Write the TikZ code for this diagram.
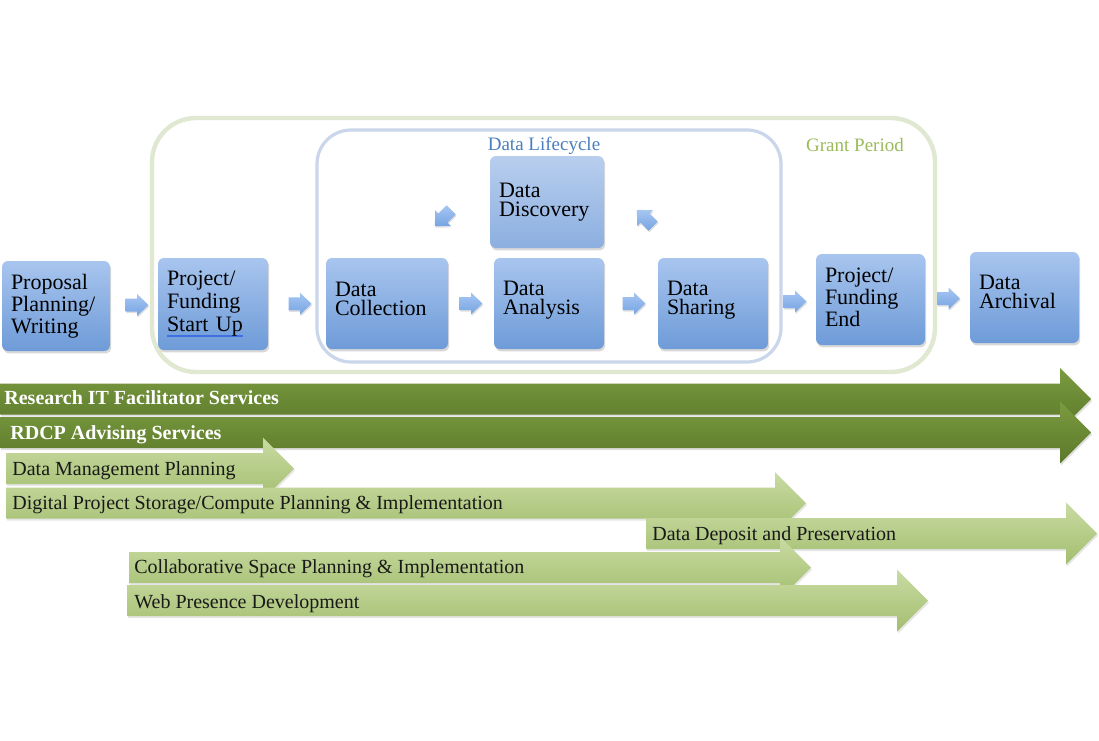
\documentclass[tikz,border=0pt]{standalone}
\usepackage{fontspec}
\setmainfont{Liberation Serif}
\usetikzlibrary{calc,shadows}
\definecolor{boxtop}{HTML}{A8C5EE}
\definecolor{boxbot}{HTML}{6E9BD8}
\definecolor{disctop}{HTML}{B8CEEE}
\definecolor{discbot}{HTML}{8CAFE0}
\definecolor{arrtop}{HTML}{A6C6F2}
\definecolor{arrbot}{HTML}{76A4E2}
\definecolor{dgtop}{HTML}{7B9B41}
\definecolor{dgbot}{HTML}{5B7829}
\definecolor{lgtop}{HTML}{C9DBA3}
\definecolor{lgbot}{HTML}{A3BE6F}
\definecolor{grantline}{HTML}{E0E8D2}
\definecolor{lifeline}{HTML}{CAD7EB}
\definecolor{lifetext}{HTML}{4A7EBF}
\definecolor{granttext}{HTML}{9BBB59}
\definecolor{ulblue}{HTML}{3F6FE0}
\newcommand\blueul[1]{\leavevmode\setbox0\hbox{#1}\rlap{\color{ulblue}\rule[-2.6pt]{\wd0}{0.9pt}}#1}
\newcommand\lowstrut[1]{\rule[-#1]{0pt}{#1}}
\newcommand\greenarrow[4]{%
  \path[#1] (#2,#4-15.5) -- (#3,#4-15.5) -- (#3,#4-31) -- (#3+31,#4) -- (#3,#4+31) -- (#3,#4+15.5) -- (#2,#4+15.5) -- cycle;}
\tikzset{
  box/.style={rectangle, rounded corners=3pt, top color=boxtop, bottom color=boxbot,
    draw=none, inner xsep=4.5pt, inner ysep=0pt, align=left,
    font=\fontsize{11}{11}\selectfont,
    drop shadow={opacity=0.3, shadow xshift=0.6pt, shadow yshift=-1.2pt}},
  twoline/.style={font=\fontsize{11}{9.5}\selectfont},
  darkbar/.style={top color=dgtop, bottom color=dgbot,
    drop shadow={opacity=0.25, shadow xshift=0.5pt, shadow yshift=-1pt}},
  lightbar/.style={top color=lgtop, bottom color=lgbot,
    drop shadow={opacity=0.2, shadow xshift=0.5pt, shadow yshift=-1pt}},
  bartext/.style={anchor=base west, inner sep=0pt, font=\fontsize{10}{10}\selectfont, text=black!90},
  darktext/.style={bartext, text=white, font=\fontsize{10}{10}\selectfont\bfseries},
  pics/barrow/.style={code={
    \path[top color=arrtop, bottom color=arrbot,
      drop shadow={opacity=0.25, shadow xshift=0.4pt, shadow yshift=-0.8pt}]
      (-11.5,-6.5) -- (0,-6.5) -- (0,-11) -- (11.5,0) -- (0,11) -- (0,6.5) -- (-11.5,6.5) -- cycle;}}
}
\begin{document}
\begin{tikzpicture}[x=0.5pt,y=-0.5pt]
\useasboundingbox (0,0) rectangle (1099,740);
\fill[white] (0,0) rectangle (1099,740);
% frames
\draw[grantline, line width=2.2pt, rounded corners=22pt] (152,118) rectangle (935,372);
\draw[lifeline, line width=1.6pt, rounded corners=17pt] (317,130) rectangle (781,362);
\node[text=lifetext, font=\fontsize{9.5}{9.5}\selectfont] (lifelabel) at (544,146) {Data Lifecycle};
\node[text=granttext, font=\fontsize{9.5}{9.5}\selectfont] (grantlabel) at (855,145) {Grant Period};
% boxes
\node[box, minimum width=54pt, minimum height=45pt, text width=45pt] (P1) at (56,306) {Proposal\\Planning/\\Writing};
\node[box, font=\fontsize{11}{11.5}\selectfont, minimum width=55pt, minimum height=46pt, text width=46pt] (P2) at (213,304) {Project/\\Funding\\\blueul{Start Up}\lowstrut{2.6pt}};
\node[box, twoline, minimum width=61pt, minimum height=45.5pt, text width=52pt] (C) at (387,303.5) {Data\\Collection\lowstrut{5pt}};
\node[box, twoline, minimum width=55pt, minimum height=45.5pt, text width=46pt] (A) at (549,303.5) {Data\\Analysis\lowstrut{5.3pt}};
\node[box, twoline, top color=disctop, bottom color=discbot, minimum width=57pt, minimum height=46pt, text width=48pt] (D) at (547,202) {Data\\Discovery};
\node[box, twoline, minimum width=55pt, minimum height=45.5pt, text width=46pt] (S) at (713,303.5) {Data\\Sharing\lowstrut{5.3pt}};
\node[box, minimum width=54.5pt, minimum height=45.5pt, text width=45.5pt] (E) at (870.5,299.5) {Project/\\Funding\\End\lowstrut{2pt}};
\node[box, twoline, minimum width=54.5pt, minimum height=45.5pt, text width=45.5pt] (Ar) at (1024.5,297.5) {Data\\Archival\lowstrut{5.7pt}};
% small arrows
\pic at ($(P1.east)!0.5!(P2.west)+(3,0)$) {barrow};
\pic at ($(P2.east)!0.5!(C.west)+(3,0)$) {barrow};
\pic at ($(C.east)!0.5!(A.west)$) {barrow};
\pic at ($(A.east)!0.5!(S.west)+(3,0)$) {barrow};
\pic at ($(S.east)!0.5!(E.west)+(3,0)$) {barrow};
\pic at ($(E.east)!0.5!(Ar.west)+(1,0)$) {barrow};
\coordinate (dl) at (443,218);
\coordinate (dr) at (645,218);
\pic[rotate=-135] at (dl) {barrow};
\pic[rotate=135] at (dr) {barrow};
% service bars
\greenarrow{darkbar}{0}{1060}{399}
\node[darktext] (rit) at (4,404) {Research IT Facilitator Services};
\greenarrow{darkbar}{0}{1060}{432.5}
\node[darktext] (rdcp) at (10,439) {RDCP Advising Services};
\greenarrow{lightbar}{6}{263}{468.5}
\node[bartext] (dmp) at (12,475) {Data Management Planning};
\greenarrow{lightbar}{6}{775}{503}
\node[bartext] (dps) at (12,509) {Digital Project Storage/Compute Planning \& Implementation};
\greenarrow{lightbar}{646}{1066}{533.5}
\node[bartext] (ddp) at (652,540) {Data Deposit and Preservation};
\greenarrow{lightbar}{129}{780}{567.5}
\node[bartext] (csp) at (134,573) {Collaborative Space Planning \& Implementation};
\greenarrow{lightbar}{127}{897}{600.5}
\node[bartext] (wpd) at (134,608) {Web Presence Development};
\end{tikzpicture}
\end{document}
